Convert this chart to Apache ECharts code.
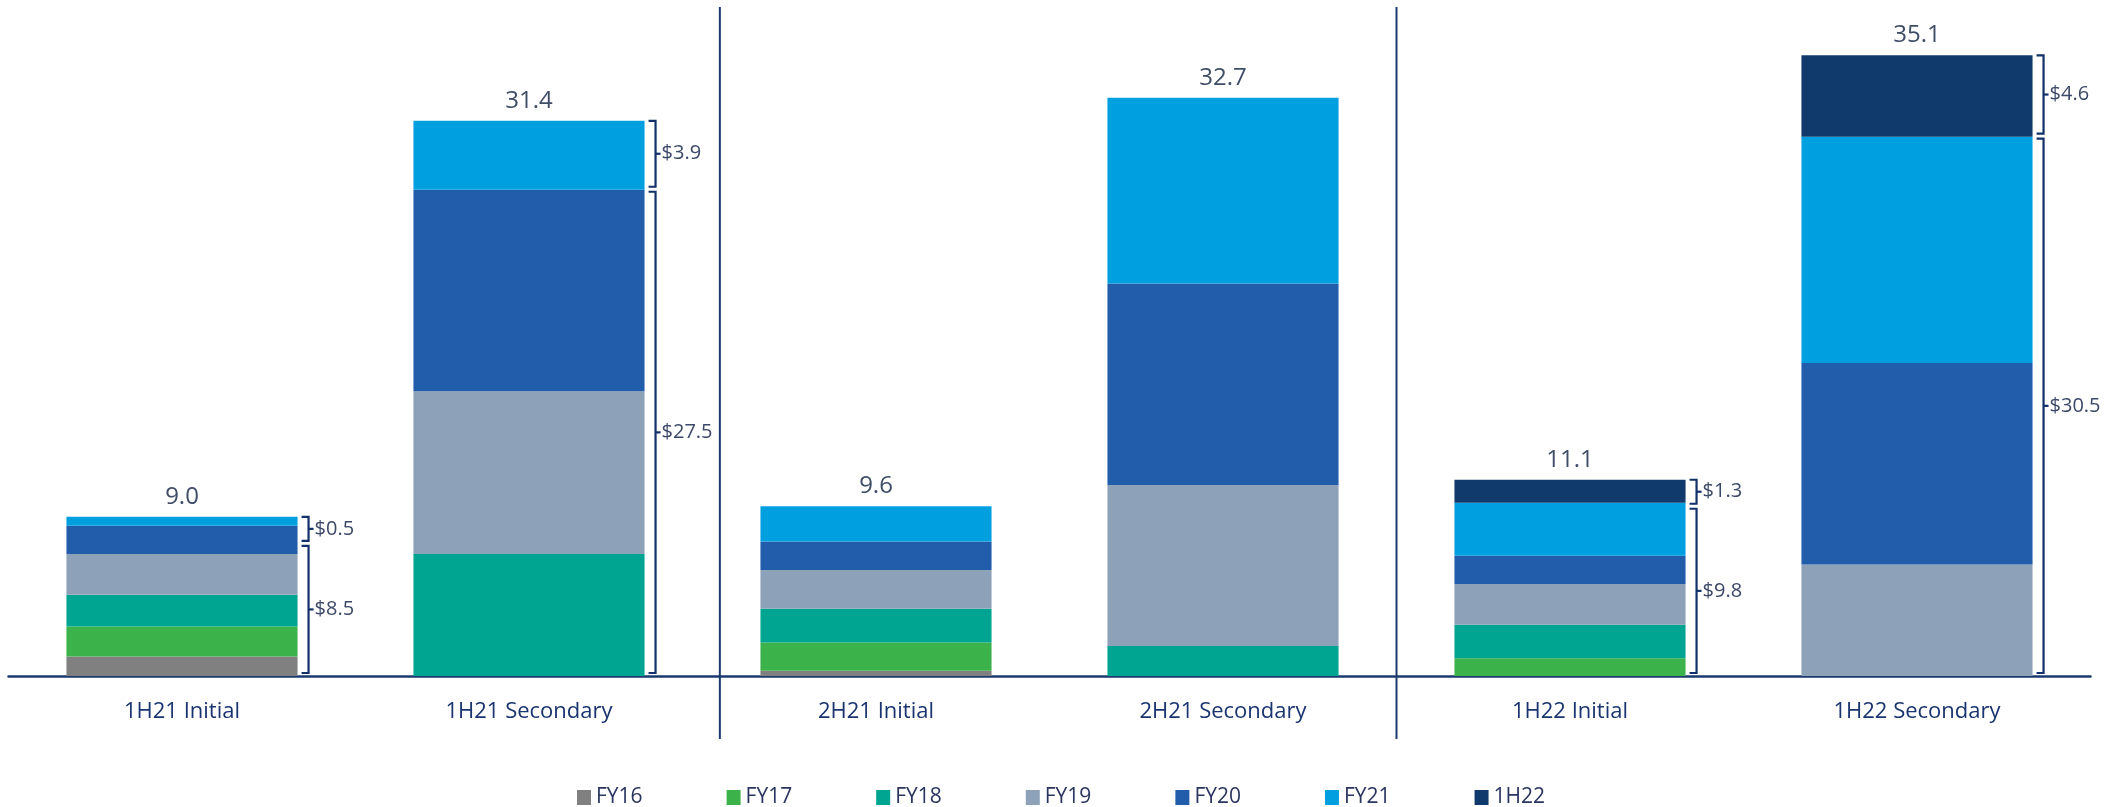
<!DOCTYPE html>
<html>
<head>
<meta charset="utf-8">
<script src="https://cdn.jsdelivr.net/npm/echarts@6/dist/echarts.min.js"></script>
<style>
  html, body { margin: 0; padding: 0; background: #fff; }
  #chart { width: 2127px; height: 807px; }
</style>
</head>
<body>
<div id="chart"></div>
<script>
// categories + stacked values
const categories = ['1H21 Initial', '1H21 Secondary', '2H21 Initial', '2H21 Secondary', '1H22 Initial', '1H22 Secondary']
const seriesNames = ['FY16', 'FY17', 'FY18', 'FY19', 'FY20', 'FY21', '1H22']
const fy16 = [1.1, 0, 0.3, 0, 0, 0]
const fy17 = [1.7, 0, 1.6, 0, 1.0, 0]
const fy18 = [1.8, 6.9, 1.9, 1.7, 1.9, 0]
const fy19 = [2.3, 9.2, 2.2, 9.1, 2.3, 6.3]
const fy20 = [1.6, 11.4, 1.6, 11.4, 1.6, 11.4]
const fy21 = [0.5, 3.9, 2.0, 10.5, 3.0, 12.8]
const h122 = [0, 0, 0, 0, 1.3, 4.6]
const colors = ['#808080', '#3bb34a', '#00a591', '#8da2b9', '#215dab', '#00a0e0', '#0f3a6b']

// bars that get the "$x.x" brackets, and where the group dividers sit (category units)
const bracketBars = [0, 1, 4, 5]
const separatorAt = [1.55, 3.5]

const allValues = [fy16, fy17, fy18, fy19, fy20, fy21, h122]
const totals = categories.map((c, i) => Math.round(allValues.reduce((s, arr) => s + arr[i], 0) * 10) / 10)

// top segment of a bar = last non-zero series
function topSegment(i) {
  for (let k = allValues.length - 1; k >= 0; k--) {
    if (allValues[k][i] > 0) return allValues[k][i]
  }
  return 0
}
// [bar, low, high, label, isTop]
const bracketData = []
bracketBars.forEach(i => {
  const top = topSegment(i)
  const lower = Math.round((totals[i] - top) * 10) / 10
  bracketData.push([i, 0, lower, '$' + lower.toFixed(1), 0])
  bracketData.push([i, lower, totals[i], '$' + top.toFixed(1), 1])
})

const FONT = "'Open Sans', sans-serif"
const NAVY = '#12306a'
const BAR_RATIO = 0.666
const MIN_BRACKET = 24

const chart = echarts.init(document.getElementById('chart'))

const barSeries = seriesNames.map((name, k) => ({
  name: name,
  type: 'bar',
  stack: 'total',
  barWidth: (BAR_RATIO * 100) + '%',
  data: allValues[k],
  itemStyle: { color: colors[k] },
  emphasis: { disabled: true },
  z: 2
}))

const option = {
  backgroundColor: '#fff',
  animation: false,
  grid: { left: 8.5, right: 36.5, top: 20, bottom: 131 },
  legend: {
    data: seriesNames,
    left: 572,
    top: 782,
    icon: 'rect',
    itemWidth: 14,
    itemHeight: 15,
    itemGap: 84,
    textStyle: { fontFamily: FONT, fontSize: 21, color: '#2a3560' }
  },
  xAxis: {
    type: 'category',
    data: categories,
    axisLine: { lineStyle: { color: '#1b3b70', width: 2.5 } },
    axisTick: { show: false },
    axisLabel: { fontFamily: FONT, fontSize: 22, color: '#1a3470', margin: 25 }
  },
  yAxis: {
    type: 'value',
    min: 0,
    max: 37.1,
    show: false,
    splitLine: { show: false }
  },
  series: barSeries.concat([
    {
      // totals above each bar
      type: 'custom',
      silent: true,
      z: 5,
      data: categories.map((c, i) => [i, totals[i]]),
      renderItem: function (params, api) {
        const p = api.coord([api.value(0), api.value(1)])
        return {
          type: 'text',
          style: {
            x: p[0], y: p[1] - 8,
            text: api.value(1).toFixed(1),
            fontFamily: FONT, fontSize: 24,
            fill: '#3f4d66',
            align: 'center', verticalAlign: 'bottom'
          }
        }
      }
    },
    {
      // brackets to the right of some bars
      type: 'custom',
      silent: true,
      z: 5,
      data: bracketData,
      renderItem: function (params, api) {
        const idx = api.value(0)
        const low = api.value(1)
        const high = api.value(2)
        const isTop = api.value(4) === 1
        const band = api.size([1, 0])[0]
        const c = api.coord([idx, 0])
        const x = c[0] + band * BAR_RATIO / 2 + 11
        // the small top bracket gets a minimum height; the lower one is pushed down to fit
        const splitY = api.coord([idx, isTop ? low : high])[1]
        const topY = api.coord([idx, totals[idx]])[1]
        const splitBot = Math.max(splitY - 3, topY + MIN_BRACKET)
        let yTop, yBot
        if (isTop) {
          yTop = topY
          yBot = splitBot
        } else {
          yTop = splitBot + 5
          yBot = api.coord([idx, low])[1] - 3
        }
        const yMid = (yTop + yBot) / 2
        const ls = { stroke: NAVY, lineWidth: 2.2, fill: null }
        return {
          type: 'group',
          children: [
            { type: 'polyline', shape: { points: [[x - 7, yTop], [x, yTop], [x, yBot], [x - 7, yBot]] }, style: ls },
            { type: 'line', shape: { x1: x, y1: yMid, x2: x + 5, y2: yMid }, style: ls },
            {
              type: 'text',
              style: {
                x: x + 6, y: yMid,
                text: bracketData[params.dataIndex][3],
                fontFamily: FONT, fontSize: 20,
                fill: '#3c4868',
                align: 'left', verticalAlign: 'middle'
              }
            }
          ]
        }
      }
    },
    {
      // vertical group dividers
      type: 'custom',
      silent: true,
      z: 4,
      data: separatorAt.map(p => [Math.floor(p), 0]),
      renderItem: function (params, api) {
        const pos = separatorAt[params.dataIndex]
        const band = api.size([1, 0])[0]
        const x = api.coord([Math.floor(pos), 0])[0] + (pos - Math.floor(pos)) * band
        const cs = params.coordSys
        return {
          type: 'line',
          shape: { x1: x, y1: cs.y - 13, x2: x, y2: cs.y + cs.height + 63 },
          style: { stroke: '#1b3b70', lineWidth: 2 }
        }
      }
    }
  ])
}

chart.setOption(option)
</script>
</body>
</html>
